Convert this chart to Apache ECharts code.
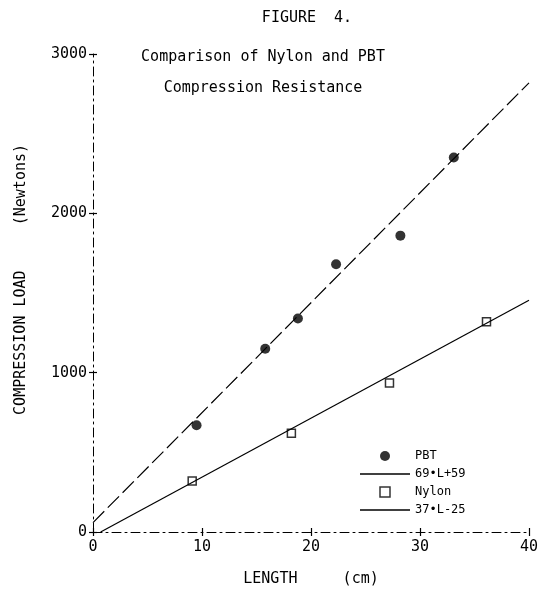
<!DOCTYPE html>
<html>
<head>
<meta charset="utf-8">
<script src="https://cdn.jsdelivr.net/npm/echarts@6/dist/echarts.min.js"></script>
<style>
html,body{margin:0;padding:0;background:#fff;}
#c{width:543px;height:597px;}
</style>
</head>
<body>
<div id="c"></div>
<script>
// Data
const pbtLength = [9.5, 15.8, 18.8, 22.3, 28.2, 33.1];
const pbtLoad   = [670, 1150, 1340, 1680, 1860, 2350];
const nylonLength = [9.1, 18.2, 27.2, 36.1];
const nylonLoad   = [320, 620, 935, 1320];
// Fitted lines (end points)
const pbtFitLength = [0, 40];
const pbtFitLoad   = [59, 2819];
const nylonFitLength = [0.7, 40];
const nylonFitLoad   = [0, 1455];
const xTicks = [0, 10, 20, 30, 40];
const yTicks = [0, 1000, 2000, 3000];
const seriesNames = ['PBT', '69\u2022L+59', 'Nylon', '37\u2022L-25'];

const FONT = 'DejaVu Sans Mono';
const zip = (a, b) => a.map((v, i) => [v, b[i]]);

const axisDash = [9, 4, 2, 4];
const chart = echarts.init(document.getElementById('c'), null, {renderer: 'canvas'});
const baseX = {
  type: 'value', min: xTicks[0], max: xTicks[xTicks.length - 1], interval: 10,
  splitLine: {show: false}
};
const baseY = {
  type: 'value', min: yTicks[0], max: yTicks[yTicks.length - 1], interval: 1000,
  splitLine: {show: false}
};
const lineIcon = 'path://M0,0H50V1.3H0Z';
chart.setOption({
  backgroundColor: '#ffffff',
  animation: false,
  textStyle: {fontFamily: FONT, color: '#000'},
  title: [
    {text: 'FIGURE  4.', left: 302, top: 6, textAlign: 'center',
     textStyle: {fontFamily: FONT, fontSize: 15, fontWeight: 'normal', color: '#000'}},
    {text: 'Comparison of Nylon and PBT', left: 258, top: 45, textAlign: 'center',
     textStyle: {fontFamily: FONT, fontSize: 15, fontWeight: 'normal', color: '#000'}},
    {text: 'Compression Resistance', left: 258, top: 76, textAlign: 'center',
     textStyle: {fontFamily: FONT, fontSize: 15, fontWeight: 'normal', color: '#000'}}
  ],
  grid: {left: 93, right: 14, top: 54, bottom: 65, containLabel: false},
  legend: {
    orient: 'vertical', left: 355, top: 445,
    itemWidth: 50, itemHeight: 10, itemGap: 6,
    symbolKeepAspect: true,
    data: [
      {name: seriesNames[0], icon: 'circle', itemStyle: {color: '#000'}},
      {name: seriesNames[1], icon: lineIcon, itemStyle: {color: '#000'}},
      {name: seriesNames[2], icon: 'path://M0,0H10V10H0Z',
       itemStyle: {color: '#fff', borderColor: '#000', borderWidth: 1.5}},
      {name: seriesNames[3], icon: lineIcon, itemStyle: {color: '#000'}}
    ],
    textStyle: {fontFamily: FONT, fontSize: 12, color: '#000'}
  },
  xAxis: [
    Object.assign({}, baseX, {
      name: 'LENGTH     (cm)', nameLocation: 'middle', nameGap: 40,
      nameTextStyle: {fontFamily: FONT, fontSize: 15, color: '#000'},
      axisLine: {show: true, lineStyle: {color: '#000', width: 1, type: axisDash}},
      axisTick: {show: true, inside: false, length: 4, lineStyle: {color: '#000', width: 1.2}},
      axisLabel: {show: true, margin: 8, fontFamily: FONT, fontSize: 15, color: '#000'}
    }),
    Object.assign({}, baseX, {
      position: 'bottom',
      axisLine: {show: false},
      axisTick: {show: true, inside: true, length: 4, lineStyle: {color: '#000', width: 1.2}},
      axisLabel: {show: false}
    })
  ],
  yAxis: [
    Object.assign({}, baseY, {
      name: '   COMPRESSION LOAD     (Newtons)', nameLocation: 'middle', nameGap: 64,
      nameTextStyle: {fontFamily: FONT, fontSize: 15, color: '#000'},
      axisLine: {show: true, lineStyle: {color: '#000', width: 1, type: axisDash}},
      axisTick: {show: true, inside: false, length: 4, lineStyle: {color: '#000', width: 1.2}},
      axisLabel: {show: true, margin: 6, fontFamily: FONT, fontSize: 15, color: '#000',
                  formatter: v => String(v)}
    }),
    Object.assign({}, baseY, {
      position: 'left',
      axisLine: {show: false},
      axisTick: {show: true, inside: true, length: 4, lineStyle: {color: '#000', width: 1.2}},
      axisLabel: {show: false}
    })
  ],
  series: [
    {
      name: seriesNames[0], type: 'scatter', xAxisIndex: 0, yAxisIndex: 0,
      data: zip(pbtLength, pbtLoad),
      symbol: 'circle', symbolSize: 10,
      itemStyle: {color: '#000'}
    },
    {
      name: seriesNames[1], type: 'line', xAxisIndex: 0, yAxisIndex: 0,
      data: zip(pbtFitLength, pbtFitLoad),
      symbol: 'none', showSymbol: false,
      lineStyle: {color: '#000', width: 1.2, type: [16, 5]},
      itemStyle: {color: '#000'}
    },
    {
      name: seriesNames[2], type: 'scatter', xAxisIndex: 0, yAxisIndex: 0,
      data: zip(nylonLength, nylonLoad),
      symbol: 'rect', symbolSize: 8,
      itemStyle: {color: '#fff', borderColor: '#000', borderWidth: 1.5}
    },
    {
      name: seriesNames[3], type: 'line', xAxisIndex: 0, yAxisIndex: 0,
      data: zip(nylonFitLength, nylonFitLoad),
      symbol: 'none', showSymbol: false,
      lineStyle: {color: '#000', width: 1.2},
      itemStyle: {color: '#000'}
    }
  ]
});
</script>
</body>
</html>
